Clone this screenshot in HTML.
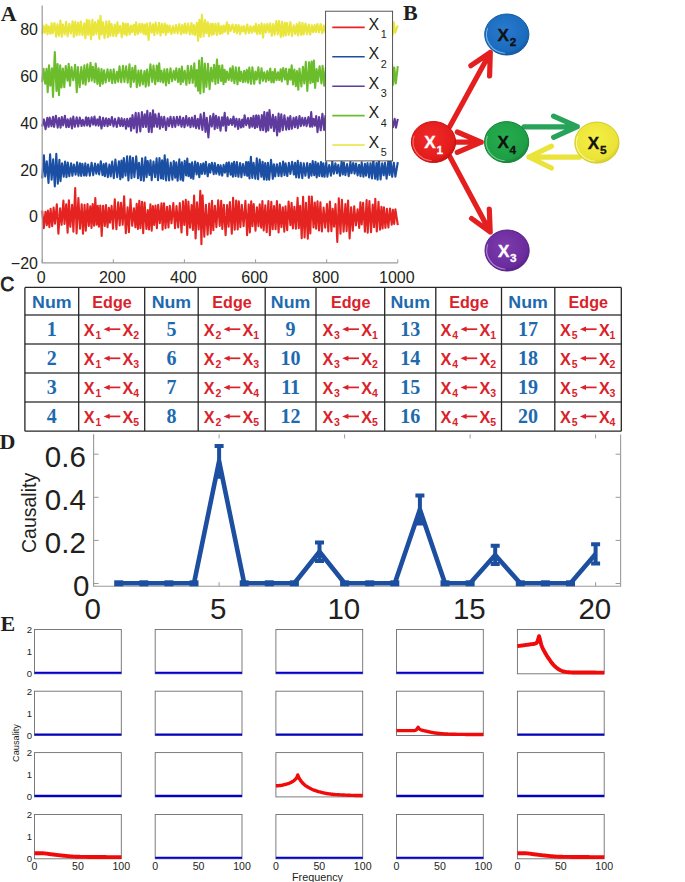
<!DOCTYPE html>
<html><head><meta charset="utf-8"><style>
html,body{margin:0;padding:0;background:#fff;}
svg{display:block;}
text{font-family:"Liberation Sans", sans-serif;}
</style></head><body>
<svg width="685" height="882" viewBox="0 0 685 882">
<rect width="685" height="882" fill="#fff"/>
<polyline fill="none" stroke="#e9e53a" stroke-width="2.1" stroke-linejoin="round" points="42.2,34.1 43.4,25.7 44.8,32.7 46.4,24.5 47.5,34.4 48.7,26.2 50.4,33.7 51.6,23.2 52.7,33.3 54.5,23.0 56.1,36.6 57.4,24.4 58.9,35.6 60.4,20.5 61.7,36.6 62.9,24.5 64.6,34.4 66.1,21.9 67.6,36.3 69.3,23.8 70.8,33.5 72.6,21.4 73.8,37.0 75.3,21.9 76.7,35.4 78.1,22.5 79.6,34.6 80.8,21.5 82.5,35.2 84.2,23.4 85.4,38.3 86.8,19.9 88.1,34.7 89.3,20.3 91.0,39.3 92.4,19.8 93.6,35.2 95.2,22.0 96.4,33.9 98.2,20.2 99.4,38.9 100.5,15.9 101.7,34.5 103.1,22.3 104.5,38.2 106.3,21.4 107.8,37.3 109.2,21.3 110.3,35.8 111.5,24.0 113.3,36.0 114.7,24.6 116.3,36.1 117.4,22.4 118.5,33.1 120.2,25.7 121.8,37.1 123.1,23.0 124.4,34.2 125.5,23.7 126.7,35.5 127.9,23.7 129.6,34.5 131.0,25.5 132.2,32.2 133.8,24.7 135.0,34.8 136.1,22.2 137.7,34.1 139.4,23.7 140.5,32.5 142.2,23.8 143.4,33.7 144.6,24.5 145.7,34.6 147.0,23.5 148.6,39.9 150.0,22.9 151.7,32.6 153.0,24.2 154.3,35.1 155.6,22.6 157.4,33.6 159.1,22.8 160.5,35.4 161.9,23.9 163.2,32.7 164.8,23.5 165.9,34.9 167.1,25.2 168.4,32.3 169.7,25.6 171.4,34.0 173.0,26.0 174.5,33.0 176.1,25.1 177.7,33.4 179.3,24.1 181.1,34.3 182.3,25.0 183.8,33.0 185.0,23.6 186.4,33.3 188.1,23.5 189.8,34.4 191.5,23.0 192.6,34.1 193.9,25.1 195.1,35.1 196.9,22.7 198.1,40.7 199.4,19.9 200.7,37.0 201.9,14.7 203.6,36.4 205.1,20.0 206.3,33.1 207.8,22.4 208.9,36.3 210.5,23.7 211.7,35.0 212.8,23.9 214.0,34.2 215.5,23.9 217.0,35.0 218.4,23.2 219.9,34.0 221.3,26.0 222.4,33.5 223.8,25.6 225.1,31.9 226.9,22.2 228.1,33.9 229.2,25.0 230.7,30.9 232.5,24.5 234.2,32.2 235.8,24.7 237.0,33.3 238.6,25.1 240.2,34.2 241.4,26.4 242.8,31.5 244.0,26.0 245.6,33.6 247.2,24.5 248.9,33.0 250.5,26.1 251.8,32.8 253.5,26.4 254.8,31.8 255.9,23.9 257.3,34.1 258.8,24.8 260.1,33.8 261.6,23.4 263.1,37.7 264.4,24.4 265.9,32.4 267.3,23.9 268.9,32.2 270.2,23.3 271.8,35.9 273.2,24.0 274.7,34.6 276.3,21.1 277.8,34.4 279.0,21.0 280.8,36.9 282.0,21.8 283.3,36.0 284.8,22.5 285.9,35.4 287.1,23.0 288.8,34.9 290.4,22.0 292.0,36.1 293.7,25.2 295.3,34.0 296.7,24.1 298.2,35.5 299.5,22.3 301.2,34.9 302.5,22.8 303.7,34.4 305.5,23.5 307.0,34.2 308.7,24.5 310.2,34.5 311.8,25.2 313.2,32.3 314.7,25.0 315.9,32.0 317.4,24.0 319.0,32.4 320.6,24.1 322.3,33.2 323.8,25.6 325.5,32.6 326.6,25.6 328.4,33.1 329.7,25.0 330.9,34.2 332.4,26.6 333.8,32.3 335.2,25.2 336.9,32.8 338.1,25.3 339.7,32.5 341.0,24.6 342.5,34.7 344.0,24.1 345.1,33.0 346.6,23.7 348.3,33.2 349.5,24.8 350.6,35.4 351.8,24.2 353.2,35.8 355.0,22.6 356.1,35.7 357.9,23.8 359.4,32.3 360.6,20.1 361.9,38.5 363.2,25.6 364.8,34.0 366.3,25.6 367.6,38.4 368.8,22.5 370.6,34.6 372.2,23.4 373.6,37.2 375.0,23.6 376.6,33.8 378.4,22.5 379.5,32.7 380.7,23.0 382.1,34.7 383.5,24.0 384.7,34.4 385.8,24.9 387.1,31.8 388.4,22.5 390.1,34.0 391.6,23.5 392.7,34.7 393.8,22.4 395.2,32.6 397.8,25.4"/>
<polyline fill="none" stroke="#6cbd2c" stroke-width="2.1" stroke-linejoin="round" points="42.2,82.0 43.5,68.9 45.2,83.7 46.5,68.8 47.7,92.3 49.0,65.2 50.3,85.6 51.9,68.3 53.0,96.9 54.8,52.1 56.5,91.0 57.6,64.0 59.0,95.3 60.2,65.2 61.5,87.4 62.9,68.6 64.3,87.2 65.7,66.0 67.5,80.7 68.7,63.9 70.0,85.8 71.5,67.1 73.3,80.3 75.1,64.9 76.8,92.1 77.9,67.1 79.7,87.1 81.3,67.0 83.0,83.6 84.4,65.4 85.6,84.6 87.3,64.4 88.8,81.4 90.5,62.8 91.7,80.6 92.9,66.8 94.6,82.1 95.7,63.5 97.4,83.9 98.6,68.4 100.1,85.9 101.5,69.0 102.8,83.7 104.1,70.3 105.7,82.4 107.5,69.4 109.1,81.2 110.6,69.7 112.2,83.2 113.7,69.4 115.2,82.9 116.9,71.9 118.2,81.6 119.5,66.2 121.2,82.3 123.0,65.9 124.4,82.0 126.1,66.4 127.7,82.6 129.5,64.2 130.7,87.0 132.4,67.7 133.8,81.9 135.3,65.8 136.8,87.1 138.4,70.6 139.8,85.7 141.1,70.3 142.8,84.3 144.5,71.0 145.7,86.6 147.1,69.5 148.7,85.6 150.4,64.4 152.2,81.8 153.5,65.5 155.2,84.1 156.8,65.5 157.9,81.3 159.2,63.2 160.4,81.7 161.5,70.8 163.1,82.5 164.4,69.4 166.0,85.3 167.2,69.1 168.9,83.1 170.5,68.3 172.1,81.3 173.7,70.9 175.1,79.8 176.3,68.4 178.1,82.0 179.3,68.8 180.7,84.1 181.9,66.5 183.1,81.8 184.7,70.7 186.4,84.8 187.8,65.8 189.5,83.2 191.2,66.1 192.7,82.8 194.3,63.3 195.6,86.4 196.8,70.0 198.1,90.6 199.1,60.5 200.3,93.5 201.9,57.7 203.7,92.2 204.8,63.5 206.4,87.0 208.0,63.9 209.6,89.1 211.1,67.7 212.5,81.5 214.1,64.9 215.4,84.0 217.0,59.6 218.2,82.9 219.3,65.7 221.1,81.0 222.3,65.2 223.5,84.2 224.6,69.7 225.7,81.9 226.9,71.5 228.7,80.0 230.2,68.4 231.6,80.9 232.7,66.4 234.4,83.1 235.8,67.3 237.5,84.3 239.0,67.6 240.1,81.0 241.3,71.7 242.9,82.2 244.2,70.9 245.4,81.7 246.8,69.8 248.1,82.6 249.3,67.5 251.0,83.8 252.4,67.3 254.2,83.8 255.4,71.5 256.7,79.5 258.4,67.4 259.8,83.4 261.5,68.3 262.9,80.9 264.3,72.2 266.0,81.6 267.3,71.0 268.8,80.4 270.3,68.5 271.4,82.3 272.6,72.1 273.8,82.4 274.9,69.1 276.5,80.2 278.0,72.3 279.3,80.0 280.7,69.2 281.8,81.5 283.2,68.0 284.9,79.5 286.0,68.7 287.6,84.1 289.2,69.2 290.4,79.6 291.7,65.2 293.0,84.5 294.4,69.5 295.8,86.1 297.0,71.0 298.3,89.7 299.5,68.5 301.4,86.5 302.9,66.7 304.3,83.5 305.8,61.9 307.3,91.0 309.1,62.2 310.4,83.1 311.6,61.5 312.8,82.2 313.9,60.6 315.1,88.0 316.6,69.0 317.9,81.3 319.6,66.2 321.4,83.5 322.6,65.9 324.2,85.6 325.8,67.7 327.6,84.8 328.8,63.3 330.5,82.6 331.8,65.1 333.0,85.7 334.3,62.9 336.1,87.6 337.5,69.8 338.9,93.0 340.6,68.9 342.3,87.7 344.1,63.9 345.2,84.0 347.0,62.6 348.6,88.2 350.3,67.4 352.0,86.0 353.7,66.7 355.5,82.8 357.0,65.0 358.2,86.9 359.8,65.8 360.9,87.2 362.2,65.8 363.5,88.4 364.8,64.1 366.5,88.7 368.2,60.4 370.0,85.7 371.5,65.9 373.1,86.2 374.3,54.6 375.7,84.9 377.3,61.1 378.7,91.5 380.2,53.7 381.8,89.8 383.1,63.9 384.8,88.4 386.4,59.9 387.6,87.4 389.0,64.0 390.7,86.6 392.0,63.5 393.1,84.8 394.3,67.6 395.8,83.4 397.8,66.1"/>
<polyline fill="none" stroke="#5f3b9e" stroke-width="2.1" stroke-linejoin="round" points="42.2,126.5 43.9,119.4 45.6,129.2 47.3,117.9 48.6,126.8 49.7,117.6 51.5,126.2 53.0,116.9 54.1,126.9 55.9,115.7 57.7,127.7 59.0,118.0 60.6,127.7 61.8,117.0 63.2,125.4 64.9,115.8 66.3,127.2 67.7,119.2 68.9,127.0 70.6,118.4 72.0,128.4 73.3,116.6 74.9,126.8 76.7,117.4 78.2,126.5 79.8,117.6 81.6,126.0 82.7,119.7 84.3,125.8 86.1,117.3 87.2,125.5 88.5,117.9 90.0,126.4 91.6,117.4 93.1,124.6 94.5,116.5 95.7,125.4 97.3,119.3 98.6,125.7 99.8,116.7 101.5,128.5 103.1,117.9 104.5,126.0 106.1,118.3 107.6,126.3 108.8,118.8 110.3,125.0 111.9,117.0 113.5,126.4 115.0,118.9 116.8,127.0 118.6,117.7 120.3,126.0 121.6,118.4 122.9,126.1 124.4,119.1 126.0,128.8 127.2,118.9 128.6,126.5 130.1,118.4 131.1,130.6 132.5,115.1 133.9,128.5 135.7,112.8 136.8,132.4 138.6,113.1 140.3,131.5 141.9,112.0 143.1,127.0 144.7,114.3 145.9,126.9 147.3,110.9 148.8,131.9 150.2,113.1 151.7,132.1 153.0,110.3 154.1,126.7 155.4,114.4 157.1,126.9 158.8,113.6 159.9,128.7 161.4,116.8 162.8,127.2 164.2,116.9 166.0,130.0 167.6,118.2 169.1,126.2 170.5,116.7 172.3,127.1 173.7,117.1 175.3,126.9 176.9,116.8 178.5,125.3 180.0,116.6 181.5,126.8 183.2,117.8 184.5,127.3 186.2,116.1 187.6,125.7 189.1,118.1 190.5,127.3 191.9,117.6 193.5,126.6 194.9,115.7 196.1,128.1 197.8,118.8 199.1,128.6 200.6,114.3 202.4,130.0 204.0,112.8 205.5,131.9 206.8,117.8 208.4,137.5 210.2,116.0 211.8,126.5 213.4,113.8 214.7,129.2 216.0,115.7 217.4,128.0 218.8,117.1 220.5,130.7 222.0,117.2 223.2,125.7 224.7,112.8 225.9,130.8 227.5,117.2 228.8,124.9 230.6,119.0 232.0,125.0 233.5,116.5 235.0,126.7 236.4,118.8 238.2,129.0 239.3,119.1 241.0,127.5 242.2,119.5 243.4,126.8 244.6,115.2 246.2,125.2 248.0,118.0 249.6,127.8 250.9,117.7 252.3,126.7 253.5,115.8 254.9,128.1 256.2,115.3 257.3,127.1 258.6,115.5 260.4,130.1 261.8,115.0 263.1,130.2 264.3,112.1 266.0,131.7 267.2,112.5 268.3,130.5 269.5,110.1 271.1,127.8 272.9,114.8 274.0,131.2 275.6,116.8 277.1,135.4 278.6,113.5 279.7,131.7 281.3,114.3 282.7,130.1 284.4,115.3 286.2,129.7 287.8,117.5 289.0,129.3 290.3,116.0 291.8,128.8 293.6,117.7 294.9,127.3 296.3,117.0 297.8,128.2 299.5,116.0 300.8,126.1 302.3,117.9 303.8,125.5 305.2,117.9 306.6,126.1 308.4,117.1 310.0,126.6 311.2,112.0 312.3,126.6 313.6,118.8 315.0,125.7 316.2,116.1 317.5,132.1 319.1,117.1 320.7,130.3 322.4,113.7 324.1,129.9 325.4,115.9 326.9,130.8 328.5,117.9 330.1,130.9 331.6,116.9 333.2,128.7 335.0,114.2 336.7,127.7 338.0,115.2 339.2,128.5 340.5,116.6 342.2,125.4 343.5,115.9 345.1,126.1 346.6,118.5 348.4,126.7 349.6,115.7 351.3,125.7 352.4,115.2 354.0,126.9 355.4,118.7 356.7,127.5 358.0,116.1 359.4,127.6 360.8,117.6 362.0,129.4 363.4,115.1 364.6,130.4 366.0,116.0 367.5,132.7 368.9,112.8 370.3,127.3 371.8,110.6 373.3,133.1 374.5,110.9 375.7,128.7 377.0,113.3 378.8,127.6 380.3,115.4 381.9,135.5 383.1,118.3 384.6,130.0 386.0,115.5 387.2,126.7 388.5,116.4 389.7,126.9 391.3,116.3 393.0,127.2 394.7,118.8 396.0,127.6 397.8,118.9"/>
<polyline fill="none" stroke="#1b4fa3" stroke-width="2.1" stroke-linejoin="round" points="42.2,178.3 43.9,155.3 45.2,176.4 46.8,161.3 48.5,183.0 50.1,154.3 51.6,179.6 53.2,159.4 54.8,186.5 56.3,153.9 57.8,183.6 59.4,159.8 60.5,181.1 62.1,163.2 63.7,176.7 65.1,161.6 66.5,177.2 67.8,162.6 69.3,176.1 71.1,163.4 72.4,175.8 73.9,164.6 75.6,174.7 77.1,162.4 78.5,175.6 80.0,163.2 81.2,175.9 82.4,163.9 84.1,175.5 85.3,163.4 86.4,175.6 88.1,164.5 89.8,175.6 91.6,162.7 93.2,175.2 95.0,163.6 96.3,173.7 97.9,164.4 99.2,174.4 100.8,161.2 102.5,175.1 103.7,164.0 104.9,176.1 106.1,163.3 107.8,177.2 109.4,164.6 110.7,176.5 112.2,161.5 113.8,178.1 115.4,159.6 117.2,177.1 118.9,161.4 120.3,179.2 121.4,160.6 122.7,177.4 123.8,158.1 125.5,175.7 127.1,156.2 128.4,180.5 130.1,156.3 131.5,178.3 132.9,157.8 134.4,177.2 136.2,156.4 138.0,178.3 139.1,162.9 140.9,180.2 142.1,158.4 143.8,180.8 145.4,157.4 146.6,177.1 147.7,161.0 149.4,174.9 150.5,160.2 151.7,180.1 153.5,161.5 155.1,177.1 156.6,158.4 158.0,180.3 159.5,158.1 161.0,178.4 162.1,160.4 163.3,178.9 164.7,155.4 166.1,180.4 167.5,159.3 169.1,180.5 170.8,162.5 172.4,179.6 173.8,161.0 175.2,177.7 176.3,162.2 177.6,180.6 179.3,159.4 180.6,179.8 181.9,162.3 183.1,180.7 184.7,160.8 186.1,175.5 187.3,158.6 188.5,176.2 189.7,163.7 190.9,178.0 192.1,162.3 193.3,178.8 195.1,161.6 196.6,174.5 197.8,162.9 199.3,177.1 200.7,164.1 201.9,173.9 203.3,163.2 204.8,173.9 205.9,161.9 207.7,176.3 209.2,164.0 210.3,172.6 211.9,162.7 213.7,174.2 214.8,163.1 216.3,173.8 218.0,164.7 219.4,174.8 220.6,165.3 222.2,175.7 223.6,164.9 224.9,172.7 226.5,162.8 227.6,176.3 228.9,162.3 230.6,174.7 231.8,163.3 232.9,176.6 234.1,161.8 235.6,176.2 236.9,162.1 238.4,176.8 240.1,163.0 241.4,177.2 243.0,164.0 244.6,175.1 246.1,162.1 247.2,175.8 248.3,162.0 249.5,178.4 250.9,156.9 252.3,178.0 253.6,162.9 255.3,178.7 256.8,158.2 258.1,179.3 259.7,159.6 261.4,176.8 262.6,161.7 264.0,179.5 265.2,163.0 266.7,179.8 267.9,162.9 269.2,179.6 271.0,159.9 272.8,178.8 273.9,164.2 275.2,176.4 276.9,164.2 278.6,176.0 279.9,163.0 281.5,176.3 283.1,161.6 284.5,175.2 285.6,163.4 287.3,176.0 288.9,162.8 290.4,173.9 292.1,161.8 293.9,174.5 295.1,162.7 296.2,177.3 297.8,160.9 299.0,177.7 300.7,162.7 302.3,178.2 303.8,163.3 305.4,175.8 307.2,163.0 308.8,177.8 310.1,163.8 311.5,175.7 312.7,161.0 314.2,175.2 315.5,161.9 316.7,177.4 318.0,163.3 319.3,176.0 321.0,162.0 322.1,176.4 323.3,163.3 324.5,176.8 326.2,162.4 327.4,176.6 329.2,165.1 330.9,175.6 332.3,161.7 333.8,173.8 335.4,163.4 337.0,173.3 338.3,164.9 340.0,175.8 341.6,161.7 342.8,174.5 343.9,162.5 345.4,175.1 347.1,164.1 348.7,176.2 350.4,162.1 351.5,173.3 353.2,163.0 354.6,173.7 356.0,163.5 357.6,175.4 359.1,164.9 360.5,176.1 361.7,162.4 363.4,176.6 364.9,163.9 366.0,175.6 367.5,163.1 369.1,177.4 370.5,163.2 372.0,178.4 373.3,159.8 375.1,178.6 376.5,163.1 377.6,179.7 378.9,160.2 380.6,179.4 382.2,163.4 383.7,175.3 385.0,162.9 386.6,178.7 388.3,161.1 389.5,174.9 390.6,160.5 392.2,176.8 393.8,162.7 395.4,176.7 397.8,162.1"/>
<polyline fill="none" stroke="#e52421" stroke-width="2.1" stroke-linejoin="round" points="42.2,210.6 43.8,228.2 45.5,211.9 46.8,225.2 47.9,210.6 49.4,227.1 50.6,208.7 52.2,226.2 53.6,207.6 55.0,223.7 56.8,204.4 58.4,233.6 60.1,208.3 61.6,224.8 63.4,200.5 64.5,223.9 66.2,204.2 67.6,232.7 68.9,200.3 70.3,226.8 72.1,204.8 73.4,231.7 75.2,188.0 76.6,233.5 78.4,198.1 80.0,228.8 81.7,204.2 83.0,233.6 84.6,204.9 85.8,230.7 87.5,204.1 88.8,226.0 90.3,206.2 91.5,227.9 92.7,204.1 94.1,225.7 95.3,198.1 96.6,224.6 97.8,205.8 98.9,226.8 100.3,205.6 101.7,235.9 103.1,205.7 104.8,226.0 106.0,205.0 107.5,227.3 108.9,207.9 110.0,222.7 111.6,205.8 113.0,228.6 114.8,199.3 116.4,229.1 118.2,202.4 119.7,225.4 121.0,202.7 122.7,224.8 124.1,196.3 125.8,233.1 127.6,207.4 128.9,232.3 130.5,199.4 132.2,225.8 134.0,208.4 135.4,227.3 136.7,203.9 137.9,229.0 139.3,200.9 140.4,228.3 142.0,201.8 143.2,233.3 144.6,202.6 146.4,229.0 147.8,210.1 149.0,229.4 150.4,204.4 151.7,230.7 152.9,206.0 154.2,225.0 155.5,205.5 156.9,228.2 158.2,204.8 159.8,223.2 161.5,203.2 162.6,229.8 164.0,203.2 165.5,228.1 167.0,206.8 168.5,227.5 169.8,205.8 171.5,223.3 173.3,203.0 175.0,228.1 176.5,206.1 178.2,227.4 179.8,203.0 181.5,232.5 183.0,201.2 184.3,225.0 185.8,199.9 187.2,234.9 188.4,201.6 190.0,227.7 191.6,205.1 192.9,229.9 194.1,195.6 195.6,238.5 197.0,202.4 198.7,229.4 200.3,190.9 201.4,244.3 202.6,195.3 204.3,236.7 205.9,204.7 207.6,234.7 209.2,203.6 210.7,233.6 212.0,200.7 213.3,230.1 214.9,205.7 216.4,227.2 218.2,200.2 219.7,225.9 221.2,200.8 222.3,229.0 223.9,204.9 225.6,235.2 227.1,205.1 228.6,226.6 229.9,202.0 231.8,233.6 233.1,197.7 234.7,229.6 236.2,200.6 237.7,229.4 238.8,201.4 240.4,227.1 241.8,204.8 243.6,226.2 245.4,200.9 247.1,235.1 248.7,204.5 249.9,232.4 251.2,201.2 252.5,226.3 253.7,204.0 255.5,230.6 256.9,207.2 258.5,226.2 259.7,204.2 261.2,227.8 262.4,201.0 263.7,230.4 265.3,205.4 266.7,232.1 268.4,201.0 269.9,235.3 271.3,201.9 272.7,229.1 274.1,206.1 275.6,229.1 276.9,201.0 278.6,232.5 279.8,204.5 281.4,227.1 282.8,207.2 284.3,231.7 285.5,206.3 287.2,230.1 288.6,201.6 290.4,225.2 291.6,202.7 292.9,228.5 294.4,206.8 295.9,228.6 297.6,197.8 298.8,228.1 300.2,205.9 301.7,238.1 303.1,196.8 304.6,237.5 306.0,202.9 307.8,238.6 309.0,196.6 310.3,233.5 311.8,196.5 313.5,227.4 314.8,202.6 316.1,228.8 317.5,201.4 319.0,230.4 320.4,202.2 321.9,231.4 323.6,207.5 325.2,227.6 327.0,204.1 328.3,231.5 329.9,201.5 331.4,231.2 332.7,208.8 334.1,226.6 335.5,204.0 337.3,241.9 338.8,198.4 340.5,233.8 341.9,199.7 343.6,231.7 345.4,204.0 346.6,231.2 348.1,200.5 349.6,238.4 351.1,207.2 352.8,230.6 354.2,206.2 355.9,225.4 357.6,209.3 359.2,228.0 360.4,202.2 361.7,224.5 363.1,202.7 364.9,231.6 366.6,200.0 367.7,232.7 369.4,201.1 371.0,232.1 372.7,204.6 374.1,227.1 375.3,198.8 376.8,231.5 378.5,201.9 380.0,229.7 381.4,206.8 382.6,228.5 383.9,207.2 385.4,227.8 386.9,208.9 388.4,227.5 390.0,208.5 391.7,224.6 392.9,209.9 394.2,224.0 395.4,209.3 397.8,225.2"/>
<path d="M42.2 5.5 V262.8 H397.8" fill="none" stroke="#9a9a9a" stroke-width="1.2"/>
<line x1="42.2" y1="262.8" x2="42.2" y2="259.3" stroke="#9a9a9a" stroke-width="1"/>
<text x="41.2" y="282.8" font-size="16" text-anchor="middle" fill="#231f20">0</text>
<line x1="113.3" y1="262.8" x2="113.3" y2="259.3" stroke="#9a9a9a" stroke-width="1"/>
<text x="112.3" y="282.8" font-size="16" text-anchor="middle" fill="#231f20">200</text>
<line x1="184.4" y1="262.8" x2="184.4" y2="259.3" stroke="#9a9a9a" stroke-width="1"/>
<text x="183.4" y="282.8" font-size="16" text-anchor="middle" fill="#231f20">400</text>
<line x1="255.6" y1="262.8" x2="255.6" y2="259.3" stroke="#9a9a9a" stroke-width="1"/>
<text x="254.6" y="282.8" font-size="16" text-anchor="middle" fill="#231f20">600</text>
<line x1="326.7" y1="262.8" x2="326.7" y2="259.3" stroke="#9a9a9a" stroke-width="1"/>
<text x="325.7" y="282.8" font-size="16" text-anchor="middle" fill="#231f20">800</text>
<line x1="397.8" y1="262.8" x2="397.8" y2="259.3" stroke="#9a9a9a" stroke-width="1"/>
<text x="396.8" y="282.8" font-size="16" text-anchor="middle" fill="#231f20">1000</text>
<text x="38.0" y="34.7" font-size="16" text-anchor="end" fill="#231f20">80</text>
<text x="38.0" y="81.6" font-size="16" text-anchor="end" fill="#231f20">60</text>
<text x="38.0" y="128.5" font-size="16" text-anchor="end" fill="#231f20">40</text>
<text x="38.0" y="175.5" font-size="16" text-anchor="end" fill="#231f20">20</text>
<text x="38.0" y="222.4" font-size="16" text-anchor="end" fill="#231f20">0</text>
<text x="38.0" y="269.3" font-size="16" text-anchor="end" fill="#231f20">−20</text>
<rect x="325.6" y="11.2" width="67" height="149.7" fill="#fff" stroke="#444" stroke-width="0.9"/>
<line x1="332.3" y1="27.4" x2="364.7" y2="27.4" stroke="#e52421" stroke-width="1.6"/>
<text x="368.6" y="29.9" font-size="16" fill="#231f20">X</text>
<text x="380.8" y="38.4" font-size="10.8" fill="#231f20">1</text>
<line x1="332.3" y1="56.8" x2="364.7" y2="56.8" stroke="#1b4fa3" stroke-width="1.6"/>
<text x="368.6" y="59.3" font-size="16" fill="#231f20">X</text>
<text x="380.8" y="67.8" font-size="10.8" fill="#231f20">2</text>
<line x1="332.3" y1="86.2" x2="364.7" y2="86.2" stroke="#5f3b9e" stroke-width="1.6"/>
<text x="368.6" y="88.7" font-size="16" fill="#231f20">X</text>
<text x="380.8" y="97.2" font-size="10.8" fill="#231f20">3</text>
<line x1="332.3" y1="115.6" x2="364.7" y2="115.6" stroke="#6cbd2c" stroke-width="1.6"/>
<text x="368.6" y="118.1" font-size="16" fill="#231f20">X</text>
<text x="380.8" y="126.6" font-size="10.8" fill="#231f20">4</text>
<line x1="332.3" y1="145.0" x2="364.7" y2="145.0" stroke="#e9e53a" stroke-width="1.6"/>
<text x="368.6" y="147.5" font-size="16" fill="#231f20">X</text>
<text x="380.8" y="156.0" font-size="10.8" fill="#231f20">5</text>
<text x="0.7" y="21.2" font-size="22" font-weight="bold" style='font-family:"Liberation Serif", serif' fill="#231f20">A</text>
<text x="403.1" y="20.1" font-size="22" font-weight="bold" style='font-family:"Liberation Serif", serif' fill="#231f20">B</text>
<text x="0.2" y="290.5" font-size="21" fill="#231f20" stroke="#231f20" stroke-width="0.8" textLength="14" lengthAdjust="spacingAndGlyphs">C</text>
<text x="-0.6" y="449.3" font-size="22" font-weight="bold" style='font-family:"Liberation Serif", serif' fill="#231f20">D</text>
<text x="0.4" y="631.3" font-size="22" font-weight="bold" style='font-family:"Liberation Serif", serif' fill="#231f20">E</text>
<defs>
<radialGradient id="gR" cx="45%" cy="40%" r="60%"><stop offset="0" stop-color="#f02a2a"/><stop offset="0.85" stop-color="#e31b1b"/><stop offset="1" stop-color="#c81414"/></radialGradient>
<radialGradient id="gB" cx="45%" cy="40%" r="60%"><stop offset="0" stop-color="#2a7bd0"/><stop offset="0.85" stop-color="#1a6bbd"/><stop offset="1" stop-color="#155aa3"/></radialGradient>
<radialGradient id="gP" cx="45%" cy="40%" r="60%"><stop offset="0" stop-color="#7d3cae"/><stop offset="0.85" stop-color="#6a2b9c"/><stop offset="1" stop-color="#58238a"/></radialGradient>
<radialGradient id="gG" cx="45%" cy="40%" r="60%"><stop offset="0" stop-color="#27ad4f"/><stop offset="0.85" stop-color="#1e9e45"/><stop offset="1" stop-color="#16863a"/></radialGradient>
<radialGradient id="gY" cx="45%" cy="40%" r="60%"><stop offset="0" stop-color="#f5ef45"/><stop offset="0.85" stop-color="#ebe337"/><stop offset="1" stop-color="#d6cf2c"/></radialGradient>
</defs>
<path d="M449.5 127.0 L490.3 52.5 M470.9 65.7 L490.3 52.5 L489.6 76.0" fill="none" stroke="#e41f1f" stroke-width="5.2" stroke-linecap="round" stroke-linejoin="round"/>
<path d="M449.5 156.0 L490.2 232.0 M489.3 209.0 L490.2 232.0 L471.6 218.5" fill="none" stroke="#e41f1f" stroke-width="5.2" stroke-linecap="round" stroke-linejoin="round"/>
<path d="M452.0 142.2 L481.2 142.2 M457.3 132.0 L481.2 142.2 L457.3 152.4" fill="none" stroke="#e41f1f" stroke-width="5.2" stroke-linecap="round" stroke-linejoin="round"/>
<path d="M524.0 126.8 L577.3 126.6 M553.5 116.1 L577.3 126.6 L553.6 137.3" fill="none" stroke="#27a35a" stroke-width="5.2" stroke-linecap="round" stroke-linejoin="round"/>
<path d="M579.5 157.1 L529.0 157.0 M551.4 168.0 L529.0 157.0 L551.5 146.1" fill="none" stroke="#eae33a" stroke-width="5.2" stroke-linecap="round" stroke-linejoin="round"/>
<ellipse cx="433.5" cy="142.0" rx="22.1" ry="20.5" fill="url(#gR)" stroke="#c41212" stroke-width="1.0"/>
<path d="M431.7 160.7 A20.4 18.8 0 0 1 414.3 135.6" fill="none" stroke="#ff8a8a" stroke-width="1.1" stroke-opacity="0.75"/>
<text x="424.3" y="148.3" font-size="17" font-weight="bold" fill="#ffffff" stroke="#ffffff" stroke-width="0.35" textLength="11.4" lengthAdjust="spacingAndGlyphs">X</text>
<text x="436.5" y="153.5" font-size="11.8" font-weight="bold" fill="#ffffff" stroke="#ffffff" stroke-width="0.3">1</text>
<ellipse cx="506.8" cy="34.5" rx="22.1" ry="20.5" fill="url(#gB)" stroke="#14579a" stroke-width="1.0"/>
<path d="M505.0 53.2 A20.4 18.8 0 0 1 487.6 28.1" fill="none" stroke="#8cc8ff" stroke-width="1.1" stroke-opacity="0.75"/>
<text x="497.6" y="40.8" font-size="17" font-weight="bold" fill="#111111" stroke="#111111" stroke-width="0.35" textLength="11.4" lengthAdjust="spacingAndGlyphs">X</text>
<text x="509.8" y="46.0" font-size="11.8" font-weight="bold" fill="#111111" stroke="#111111" stroke-width="0.3">2</text>
<ellipse cx="507.1" cy="250.5" rx="22.1" ry="20.5" fill="url(#gP)" stroke="#53207f" stroke-width="1.0"/>
<path d="M505.3 269.2 A20.4 18.8 0 0 1 487.9 244.1" fill="none" stroke="#c9a0ec" stroke-width="1.1" stroke-opacity="0.75"/>
<text x="497.9" y="256.8" font-size="17" font-weight="bold" fill="#ffffff" stroke="#ffffff" stroke-width="0.35" textLength="11.4" lengthAdjust="spacingAndGlyphs">X</text>
<text x="510.1" y="262.0" font-size="11.8" font-weight="bold" fill="#ffffff" stroke="#ffffff" stroke-width="0.3">3</text>
<ellipse cx="506.6" cy="142.1" rx="22.1" ry="20.5" fill="url(#gG)" stroke="#157f38" stroke-width="1.0"/>
<path d="M504.8 160.8 A20.4 18.8 0 0 1 487.4 135.7" fill="none" stroke="#8fe0a8" stroke-width="1.1" stroke-opacity="0.75"/>
<text x="497.4" y="148.4" font-size="17" font-weight="bold" fill="#111111" stroke="#111111" stroke-width="0.35" textLength="11.4" lengthAdjust="spacingAndGlyphs">X</text>
<text x="509.6" y="153.6" font-size="11.8" font-weight="bold" fill="#111111" stroke="#111111" stroke-width="0.3">4</text>
<ellipse cx="596.9" cy="142.6" rx="22.1" ry="20.5" fill="url(#gY)" stroke="#cfc928" stroke-width="1.0"/>
<path d="M595.1 161.3 A20.4 18.8 0 0 1 577.7 136.2" fill="none" stroke="#fffbb0" stroke-width="1.1" stroke-opacity="0.75"/>
<text x="587.7" y="148.9" font-size="17" font-weight="bold" fill="#111111" stroke="#111111" stroke-width="0.35" textLength="11.4" lengthAdjust="spacingAndGlyphs">X</text>
<text x="599.9" y="154.1" font-size="11.8" font-weight="bold" fill="#111111" stroke="#111111" stroke-width="0.3">5</text>
<path d="M24.9 314.9H621.3M24.9 343.9H621.3M24.9 373.1H621.3M24.9 402.0H621.3" stroke="#4a4a4a" stroke-width="1.5" fill="none"/>
<path d="M24.9 287.4V431.2M78.7 287.4V431.2M144.7 287.4V431.2M198.2 287.4V431.2M265.2 287.4V431.2M316.0 287.4V431.2M384.7 287.4V431.2M435.8 287.4V431.2M501.5 287.4V431.2M554.8 287.4V431.2M621.3 287.4V431.2M24.9 287.4H621.3M24.9 431.2H621.3" stroke="#262626" stroke-width="1.3" fill="none"/>
<text x="51.8" y="307.9" font-size="17.3" font-weight="bold" text-anchor="middle" fill="#1e6aae" textLength="39.5" lengthAdjust="spacingAndGlyphs">Num</text>
<text x="112.0" y="307.9" font-size="17.3" font-weight="bold" text-anchor="middle" fill="#d9222a" textLength="39.5" lengthAdjust="spacingAndGlyphs">Edge</text>
<text x="51.8" y="336.0" font-size="20" font-weight="bold" style='font-family:"Liberation Serif", serif' text-anchor="middle" fill="#1e6aae">1</text>
<g fill="#d9222a" font-weight="bold">
<text x="83.7" y="335.7" font-size="16.5" textLength="10.8" lengthAdjust="spacingAndGlyphs">X</text>
<text x="95.4" y="339.1" font-size="10.5">1</text>
<text x="122.6" y="335.7" font-size="16.5" textLength="10.8" lengthAdjust="spacingAndGlyphs">X</text>
<text x="133.3" y="339.1" font-size="10.5">2</text>
</g>
<path d="M108.7 329.2H120.3" stroke="#d9222a" stroke-width="1.7"/>
<path d="M103.6 329.2L109.7 326.6L109.7 331.8z" fill="#d9222a"/>
<text x="51.8" y="365.1" font-size="20" font-weight="bold" style='font-family:"Liberation Serif", serif' text-anchor="middle" fill="#1e6aae">2</text>
<g fill="#d9222a" font-weight="bold">
<text x="83.7" y="364.8" font-size="16.5" textLength="10.8" lengthAdjust="spacingAndGlyphs">X</text>
<text x="95.4" y="368.2" font-size="10.5">1</text>
<text x="122.6" y="364.8" font-size="16.5" textLength="10.8" lengthAdjust="spacingAndGlyphs">X</text>
<text x="133.3" y="368.2" font-size="10.5">3</text>
</g>
<path d="M108.7 358.3H120.3" stroke="#d9222a" stroke-width="1.7"/>
<path d="M103.6 358.3L109.7 355.7L109.7 360.9z" fill="#d9222a"/>
<text x="51.8" y="394.2" font-size="20" font-weight="bold" style='font-family:"Liberation Serif", serif' text-anchor="middle" fill="#1e6aae">3</text>
<g fill="#d9222a" font-weight="bold">
<text x="83.7" y="393.9" font-size="16.5" textLength="10.8" lengthAdjust="spacingAndGlyphs">X</text>
<text x="95.4" y="397.2" font-size="10.5">1</text>
<text x="122.6" y="393.9" font-size="16.5" textLength="10.8" lengthAdjust="spacingAndGlyphs">X</text>
<text x="133.3" y="397.2" font-size="10.5">4</text>
</g>
<path d="M108.7 387.4H120.3" stroke="#d9222a" stroke-width="1.7"/>
<path d="M103.6 387.4L109.7 384.8L109.7 390.0z" fill="#d9222a"/>
<text x="51.8" y="423.2" font-size="20" font-weight="bold" style='font-family:"Liberation Serif", serif' text-anchor="middle" fill="#1e6aae">4</text>
<g fill="#d9222a" font-weight="bold">
<text x="83.7" y="422.9" font-size="16.5" textLength="10.8" lengthAdjust="spacingAndGlyphs">X</text>
<text x="95.4" y="426.3" font-size="10.5">1</text>
<text x="122.6" y="422.9" font-size="16.5" textLength="10.8" lengthAdjust="spacingAndGlyphs">X</text>
<text x="133.3" y="426.3" font-size="10.5">5</text>
</g>
<path d="M108.7 416.4H120.3" stroke="#d9222a" stroke-width="1.7"/>
<path d="M103.6 416.4L109.7 413.8L109.7 419.0z" fill="#d9222a"/>
<text x="171.4" y="307.9" font-size="17.3" font-weight="bold" text-anchor="middle" fill="#1e6aae" textLength="39.5" lengthAdjust="spacingAndGlyphs">Num</text>
<text x="232.0" y="307.9" font-size="17.3" font-weight="bold" text-anchor="middle" fill="#d9222a" textLength="39.5" lengthAdjust="spacingAndGlyphs">Edge</text>
<text x="171.4" y="336.0" font-size="20" font-weight="bold" style='font-family:"Liberation Serif", serif' text-anchor="middle" fill="#1e6aae">5</text>
<g fill="#d9222a" font-weight="bold">
<text x="203.7" y="335.7" font-size="16.5" textLength="10.8" lengthAdjust="spacingAndGlyphs">X</text>
<text x="215.4" y="339.1" font-size="10.5">2</text>
<text x="242.6" y="335.7" font-size="16.5" textLength="10.8" lengthAdjust="spacingAndGlyphs">X</text>
<text x="253.3" y="339.1" font-size="10.5">1</text>
</g>
<path d="M228.7 329.2H240.3" stroke="#d9222a" stroke-width="1.7"/>
<path d="M223.6 329.2L229.7 326.6L229.7 331.8z" fill="#d9222a"/>
<text x="171.4" y="365.1" font-size="20" font-weight="bold" style='font-family:"Liberation Serif", serif' text-anchor="middle" fill="#1e6aae">6</text>
<g fill="#d9222a" font-weight="bold">
<text x="203.7" y="364.8" font-size="16.5" textLength="10.8" lengthAdjust="spacingAndGlyphs">X</text>
<text x="215.4" y="368.2" font-size="10.5">2</text>
<text x="242.6" y="364.8" font-size="16.5" textLength="10.8" lengthAdjust="spacingAndGlyphs">X</text>
<text x="253.3" y="368.2" font-size="10.5">3</text>
</g>
<path d="M228.7 358.3H240.3" stroke="#d9222a" stroke-width="1.7"/>
<path d="M223.6 358.3L229.7 355.7L229.7 360.9z" fill="#d9222a"/>
<text x="171.4" y="394.2" font-size="20" font-weight="bold" style='font-family:"Liberation Serif", serif' text-anchor="middle" fill="#1e6aae">7</text>
<g fill="#d9222a" font-weight="bold">
<text x="203.7" y="393.9" font-size="16.5" textLength="10.8" lengthAdjust="spacingAndGlyphs">X</text>
<text x="215.4" y="397.2" font-size="10.5">2</text>
<text x="242.6" y="393.9" font-size="16.5" textLength="10.8" lengthAdjust="spacingAndGlyphs">X</text>
<text x="253.3" y="397.2" font-size="10.5">4</text>
</g>
<path d="M228.7 387.4H240.3" stroke="#d9222a" stroke-width="1.7"/>
<path d="M223.6 387.4L229.7 384.8L229.7 390.0z" fill="#d9222a"/>
<text x="171.4" y="423.2" font-size="20" font-weight="bold" style='font-family:"Liberation Serif", serif' text-anchor="middle" fill="#1e6aae">8</text>
<g fill="#d9222a" font-weight="bold">
<text x="203.7" y="422.9" font-size="16.5" textLength="10.8" lengthAdjust="spacingAndGlyphs">X</text>
<text x="215.4" y="426.3" font-size="10.5">2</text>
<text x="242.6" y="422.9" font-size="16.5" textLength="10.8" lengthAdjust="spacingAndGlyphs">X</text>
<text x="253.3" y="426.3" font-size="10.5">5</text>
</g>
<path d="M228.7 416.4H240.3" stroke="#d9222a" stroke-width="1.7"/>
<path d="M223.6 416.4L229.7 413.8L229.7 419.0z" fill="#d9222a"/>
<text x="290.6" y="307.9" font-size="17.3" font-weight="bold" text-anchor="middle" fill="#1e6aae" textLength="39.5" lengthAdjust="spacingAndGlyphs">Num</text>
<text x="350.7" y="307.9" font-size="17.3" font-weight="bold" text-anchor="middle" fill="#d9222a" textLength="39.5" lengthAdjust="spacingAndGlyphs">Edge</text>
<text x="290.6" y="336.0" font-size="20" font-weight="bold" style='font-family:"Liberation Serif", serif' text-anchor="middle" fill="#1e6aae">9</text>
<g fill="#d9222a" font-weight="bold">
<text x="322.4" y="335.7" font-size="16.5" textLength="10.8" lengthAdjust="spacingAndGlyphs">X</text>
<text x="334.1" y="339.1" font-size="10.5">3</text>
<text x="361.2" y="335.7" font-size="16.5" textLength="10.8" lengthAdjust="spacingAndGlyphs">X</text>
<text x="372.0" y="339.1" font-size="10.5">1</text>
</g>
<path d="M347.4 329.2H359.0" stroke="#d9222a" stroke-width="1.7"/>
<path d="M342.2 329.2L348.4 326.6L348.4 331.8z" fill="#d9222a"/>
<text x="290.6" y="365.1" font-size="20" font-weight="bold" style='font-family:"Liberation Serif", serif' text-anchor="middle" fill="#1e6aae">10</text>
<g fill="#d9222a" font-weight="bold">
<text x="322.4" y="364.8" font-size="16.5" textLength="10.8" lengthAdjust="spacingAndGlyphs">X</text>
<text x="334.1" y="368.2" font-size="10.5">3</text>
<text x="361.2" y="364.8" font-size="16.5" textLength="10.8" lengthAdjust="spacingAndGlyphs">X</text>
<text x="372.0" y="368.2" font-size="10.5">2</text>
</g>
<path d="M347.4 358.3H359.0" stroke="#d9222a" stroke-width="1.7"/>
<path d="M342.2 358.3L348.4 355.7L348.4 360.9z" fill="#d9222a"/>
<text x="290.6" y="394.2" font-size="20" font-weight="bold" style='font-family:"Liberation Serif", serif' text-anchor="middle" fill="#1e6aae">11</text>
<g fill="#d9222a" font-weight="bold">
<text x="322.4" y="393.9" font-size="16.5" textLength="10.8" lengthAdjust="spacingAndGlyphs">X</text>
<text x="334.1" y="397.2" font-size="10.5">3</text>
<text x="361.2" y="393.9" font-size="16.5" textLength="10.8" lengthAdjust="spacingAndGlyphs">X</text>
<text x="372.0" y="397.2" font-size="10.5">4</text>
</g>
<path d="M347.4 387.4H359.0" stroke="#d9222a" stroke-width="1.7"/>
<path d="M342.2 387.4L348.4 384.8L348.4 390.0z" fill="#d9222a"/>
<text x="290.6" y="423.2" font-size="20" font-weight="bold" style='font-family:"Liberation Serif", serif' text-anchor="middle" fill="#1e6aae">12</text>
<g fill="#d9222a" font-weight="bold">
<text x="322.4" y="422.9" font-size="16.5" textLength="10.8" lengthAdjust="spacingAndGlyphs">X</text>
<text x="334.1" y="426.3" font-size="10.5">3</text>
<text x="361.2" y="422.9" font-size="16.5" textLength="10.8" lengthAdjust="spacingAndGlyphs">X</text>
<text x="372.0" y="426.3" font-size="10.5">5</text>
</g>
<path d="M347.4 416.4H359.0" stroke="#d9222a" stroke-width="1.7"/>
<path d="M342.2 416.4L348.4 413.8L348.4 419.0z" fill="#d9222a"/>
<text x="410.2" y="307.9" font-size="17.3" font-weight="bold" text-anchor="middle" fill="#1e6aae" textLength="39.5" lengthAdjust="spacingAndGlyphs">Num</text>
<text x="468.9" y="307.9" font-size="17.3" font-weight="bold" text-anchor="middle" fill="#d9222a" textLength="39.5" lengthAdjust="spacingAndGlyphs">Edge</text>
<text x="410.2" y="336.0" font-size="20" font-weight="bold" style='font-family:"Liberation Serif", serif' text-anchor="middle" fill="#1e6aae">13</text>
<g fill="#d9222a" font-weight="bold">
<text x="440.6" y="335.7" font-size="16.5" textLength="10.8" lengthAdjust="spacingAndGlyphs">X</text>
<text x="452.3" y="339.1" font-size="10.5">4</text>
<text x="479.5" y="335.7" font-size="16.5" textLength="10.8" lengthAdjust="spacingAndGlyphs">X</text>
<text x="490.2" y="339.1" font-size="10.5">1</text>
</g>
<path d="M465.6 329.2H477.2" stroke="#d9222a" stroke-width="1.7"/>
<path d="M460.5 329.2L466.6 326.6L466.6 331.8z" fill="#d9222a"/>
<text x="410.2" y="365.1" font-size="20" font-weight="bold" style='font-family:"Liberation Serif", serif' text-anchor="middle" fill="#1e6aae">14</text>
<g fill="#d9222a" font-weight="bold">
<text x="440.6" y="364.8" font-size="16.5" textLength="10.8" lengthAdjust="spacingAndGlyphs">X</text>
<text x="452.3" y="368.2" font-size="10.5">4</text>
<text x="479.5" y="364.8" font-size="16.5" textLength="10.8" lengthAdjust="spacingAndGlyphs">X</text>
<text x="490.2" y="368.2" font-size="10.5">2</text>
</g>
<path d="M465.6 358.3H477.2" stroke="#d9222a" stroke-width="1.7"/>
<path d="M460.5 358.3L466.6 355.7L466.6 360.9z" fill="#d9222a"/>
<text x="410.2" y="394.2" font-size="20" font-weight="bold" style='font-family:"Liberation Serif", serif' text-anchor="middle" fill="#1e6aae">15</text>
<g fill="#d9222a" font-weight="bold">
<text x="440.6" y="393.9" font-size="16.5" textLength="10.8" lengthAdjust="spacingAndGlyphs">X</text>
<text x="452.3" y="397.2" font-size="10.5">4</text>
<text x="479.5" y="393.9" font-size="16.5" textLength="10.8" lengthAdjust="spacingAndGlyphs">X</text>
<text x="490.2" y="397.2" font-size="10.5">3</text>
</g>
<path d="M465.6 387.4H477.2" stroke="#d9222a" stroke-width="1.7"/>
<path d="M460.5 387.4L466.6 384.8L466.6 390.0z" fill="#d9222a"/>
<text x="410.2" y="423.2" font-size="20" font-weight="bold" style='font-family:"Liberation Serif", serif' text-anchor="middle" fill="#1e6aae">16</text>
<g fill="#d9222a" font-weight="bold">
<text x="440.6" y="422.9" font-size="16.5" textLength="10.8" lengthAdjust="spacingAndGlyphs">X</text>
<text x="452.3" y="426.3" font-size="10.5">4</text>
<text x="479.5" y="422.9" font-size="16.5" textLength="10.8" lengthAdjust="spacingAndGlyphs">X</text>
<text x="490.2" y="426.3" font-size="10.5">5</text>
</g>
<path d="M465.6 416.4H477.2" stroke="#d9222a" stroke-width="1.7"/>
<path d="M460.5 416.4L466.6 413.8L466.6 419.0z" fill="#d9222a"/>
<text x="528.1" y="307.9" font-size="17.3" font-weight="bold" text-anchor="middle" fill="#1e6aae" textLength="39.5" lengthAdjust="spacingAndGlyphs">Num</text>
<text x="588.3" y="307.9" font-size="17.3" font-weight="bold" text-anchor="middle" fill="#d9222a" textLength="39.5" lengthAdjust="spacingAndGlyphs">Edge</text>
<text x="528.1" y="336.0" font-size="20" font-weight="bold" style='font-family:"Liberation Serif", serif' text-anchor="middle" fill="#1e6aae">17</text>
<g fill="#d9222a" font-weight="bold">
<text x="560.0" y="335.7" font-size="16.5" textLength="10.8" lengthAdjust="spacingAndGlyphs">X</text>
<text x="571.8" y="339.1" font-size="10.5">5</text>
<text x="598.9" y="335.7" font-size="16.5" textLength="10.8" lengthAdjust="spacingAndGlyphs">X</text>
<text x="609.6" y="339.1" font-size="10.5">1</text>
</g>
<path d="M585.0 329.2H596.6" stroke="#d9222a" stroke-width="1.7"/>
<path d="M579.9 329.2L586.0 326.6L586.0 331.8z" fill="#d9222a"/>
<text x="528.1" y="365.1" font-size="20" font-weight="bold" style='font-family:"Liberation Serif", serif' text-anchor="middle" fill="#1e6aae">18</text>
<g fill="#d9222a" font-weight="bold">
<text x="560.0" y="364.8" font-size="16.5" textLength="10.8" lengthAdjust="spacingAndGlyphs">X</text>
<text x="571.8" y="368.2" font-size="10.5">5</text>
<text x="598.9" y="364.8" font-size="16.5" textLength="10.8" lengthAdjust="spacingAndGlyphs">X</text>
<text x="609.6" y="368.2" font-size="10.5">2</text>
</g>
<path d="M585.0 358.3H596.6" stroke="#d9222a" stroke-width="1.7"/>
<path d="M579.9 358.3L586.0 355.7L586.0 360.9z" fill="#d9222a"/>
<text x="528.1" y="394.2" font-size="20" font-weight="bold" style='font-family:"Liberation Serif", serif' text-anchor="middle" fill="#1e6aae">19</text>
<g fill="#d9222a" font-weight="bold">
<text x="560.0" y="393.9" font-size="16.5" textLength="10.8" lengthAdjust="spacingAndGlyphs">X</text>
<text x="571.8" y="397.2" font-size="10.5">5</text>
<text x="598.9" y="393.9" font-size="16.5" textLength="10.8" lengthAdjust="spacingAndGlyphs">X</text>
<text x="609.6" y="397.2" font-size="10.5">3</text>
</g>
<path d="M585.0 387.4H596.6" stroke="#d9222a" stroke-width="1.7"/>
<path d="M579.9 387.4L586.0 384.8L586.0 390.0z" fill="#d9222a"/>
<text x="528.1" y="423.2" font-size="20" font-weight="bold" style='font-family:"Liberation Serif", serif' text-anchor="middle" fill="#1e6aae">20</text>
<g fill="#d9222a" font-weight="bold">
<text x="560.0" y="422.9" font-size="16.5" textLength="10.8" lengthAdjust="spacingAndGlyphs">X</text>
<text x="571.8" y="426.3" font-size="10.5">5</text>
<text x="598.9" y="422.9" font-size="16.5" textLength="10.8" lengthAdjust="spacingAndGlyphs">X</text>
<text x="609.6" y="426.3" font-size="10.5">4</text>
</g>
<path d="M585.0 416.4H596.6" stroke="#d9222a" stroke-width="1.7"/>
<path d="M579.9 416.4L586.0 413.8L586.0 419.0z" fill="#d9222a"/>
<path d="M93.6 434.4V586.2H620.6V434.4" fill="none" stroke="#9a9a9a" stroke-width="1.1"/>
<path d="M93.6 586.2v-4M93.6 434.4v4" stroke="#9a9a9a" stroke-width="1"/>
<text x="92.8" y="618.7" font-size="29.5" text-anchor="middle" fill="#231f20">0</text>
<path d="M219.1 586.2v-4M219.1 434.4v4" stroke="#9a9a9a" stroke-width="1"/>
<text x="218.3" y="618.7" font-size="29.5" text-anchor="middle" fill="#231f20">5</text>
<path d="M344.6 586.2v-4M344.6 434.4v4" stroke="#9a9a9a" stroke-width="1"/>
<text x="343.8" y="618.7" font-size="29.5" text-anchor="middle" fill="#231f20">10</text>
<path d="M470.1 586.2v-4M470.1 434.4v4" stroke="#9a9a9a" stroke-width="1"/>
<text x="469.3" y="618.7" font-size="29.5" text-anchor="middle" fill="#231f20">15</text>
<path d="M595.6 586.2v-4M595.6 434.4v4" stroke="#9a9a9a" stroke-width="1"/>
<text x="594.8" y="618.7" font-size="29.5" text-anchor="middle" fill="#231f20">20</text>
<path d="M93.6 583.5h5M620.6 583.5h-5" stroke="#9a9a9a" stroke-width="1"/>
<text x="89.3" y="596.0" font-size="29.5" text-anchor="end" fill="#231f20">0</text>
<path d="M93.6 540.4h5M620.6 540.4h-5" stroke="#9a9a9a" stroke-width="1"/>
<text x="85.8" y="553.4" font-size="29.5" text-anchor="end" fill="#231f20">0.2</text>
<path d="M93.6 497.3h5M620.6 497.3h-5" stroke="#9a9a9a" stroke-width="1"/>
<text x="85.8" y="510.3" font-size="29.5" text-anchor="end" fill="#231f20">0.4</text>
<path d="M93.6 454.2h5M620.6 454.2h-5" stroke="#9a9a9a" stroke-width="1"/>
<text x="85.8" y="467.2" font-size="29.5" text-anchor="end" fill="#231f20">0.6</text>
<text transform="translate(36.0,512.9) rotate(-90)" font-size="19.5" text-anchor="middle" fill="#231f20">Causality</text>
<polyline points="118.7,583.3 143.8,583.3 168.9,583.3 194.0,583.3 219.1,461.3 244.2,583.3 269.3,583.3 294.4,583.3 319.5,551.8 344.6,583.3 369.7,583.3 394.8,583.3 419.9,509.4 445.0,583.3 470.1,583.3 495.2,555.0 520.3,583.3 545.4,583.3 570.5,583.3 595.6,553.9" fill="none" stroke="#1c4fa0" stroke-width="4.6" stroke-linejoin="round"/>
<rect x="114.2" y="580.3" width="9" height="6" fill="#1c4fa0"/>
<rect x="139.3" y="580.3" width="9" height="6" fill="#1c4fa0"/>
<rect x="164.4" y="580.3" width="9" height="6" fill="#1c4fa0"/>
<rect x="189.5" y="580.3" width="9" height="6" fill="#1c4fa0"/>
<path d="M219.1 445.9V476.7M214.6 445.9h9M214.6 476.7h9" stroke="#1c4fa0" stroke-width="4" fill="none"/>
<rect x="239.7" y="580.3" width="9" height="6" fill="#1c4fa0"/>
<rect x="264.8" y="580.3" width="9" height="6" fill="#1c4fa0"/>
<rect x="289.9" y="580.3" width="9" height="6" fill="#1c4fa0"/>
<path d="M319.5 542.6V561.0M315.0 542.6h9M315.0 561.0h9" stroke="#1c4fa0" stroke-width="4" fill="none"/>
<rect x="340.1" y="580.3" width="9" height="6" fill="#1c4fa0"/>
<rect x="365.2" y="580.3" width="9" height="6" fill="#1c4fa0"/>
<rect x="390.3" y="580.3" width="9" height="6" fill="#1c4fa0"/>
<path d="M419.9 495.4V523.4M415.4 495.4h9M415.4 523.4h9" stroke="#1c4fa0" stroke-width="4" fill="none"/>
<rect x="440.5" y="580.3" width="9" height="6" fill="#1c4fa0"/>
<rect x="465.6" y="580.3" width="9" height="6" fill="#1c4fa0"/>
<path d="M495.2 545.8V564.1M490.7 545.8h9M490.7 564.1h9" stroke="#1c4fa0" stroke-width="4" fill="none"/>
<rect x="515.8" y="580.3" width="9" height="6" fill="#1c4fa0"/>
<rect x="540.9" y="580.3" width="9" height="6" fill="#1c4fa0"/>
<rect x="566.0" y="580.3" width="9" height="6" fill="#1c4fa0"/>
<path d="M595.6 544.2V563.5M591.1 544.2h9M591.1 563.5h9" stroke="#1c4fa0" stroke-width="4" fill="none"/>
<rect x="34.5" y="629.5" width="86.8" height="44.3" fill="#fff" stroke="#6e6e6e" stroke-width="0.9"/>
<line x1="34.5" y1="672.8" x2="121.3" y2="672.8" stroke="#0000d0" stroke-width="2.1"/>
<text x="32.2" y="677.2" font-size="9.6" text-anchor="end" fill="#231f20">0</text>
<text x="32.2" y="655.0" font-size="9.6" text-anchor="end" fill="#231f20">1</text>
<text x="32.2" y="632.9" font-size="9.6" text-anchor="end" fill="#231f20">2</text>
<rect x="155.2" y="629.5" width="86.8" height="44.3" fill="#fff" stroke="#6e6e6e" stroke-width="0.9"/>
<line x1="155.2" y1="672.8" x2="242.0" y2="672.8" stroke="#0000d0" stroke-width="2.1"/>
<rect x="275.9" y="629.5" width="86.8" height="44.3" fill="#fff" stroke="#6e6e6e" stroke-width="0.9"/>
<line x1="275.9" y1="672.8" x2="362.7" y2="672.8" stroke="#0000d0" stroke-width="2.1"/>
<rect x="396.5" y="629.5" width="86.8" height="44.3" fill="#fff" stroke="#6e6e6e" stroke-width="0.9"/>
<line x1="396.5" y1="672.8" x2="483.3" y2="672.8" stroke="#0000d0" stroke-width="2.1"/>
<rect x="517.4" y="629.5" width="86.8" height="44.3" fill="#fff" stroke="#6e6e6e" stroke-width="0.9"/>
<polyline points="517.40,646.11 518.15,646.02 518.90,645.93 519.64,645.84 520.39,645.75 521.14,645.65 521.89,645.55 522.64,645.46 523.39,645.36 524.13,645.26 524.88,645.15 525.63,645.05 526.38,644.94 527.13,644.84 527.88,644.73 528.62,644.62 529.37,644.50 530.12,644.39 530.87,644.27 531.62,644.18 532.37,644.09 533.11,643.99 533.86,643.88 534.61,643.73 535.36,643.54 536.11,643.23 536.86,642.57 537.60,641.36 538.35,638.54 539.10,636.14 539.10,636.14 539.83,638.95 540.56,642.11 541.29,644.85 542.03,646.77 542.76,648.36 543.49,649.79 544.22,651.22 544.95,652.58 545.68,653.87 546.41,655.09 547.15,656.24 547.88,657.33 548.61,658.38 549.34,659.43 550.07,660.49 550.80,661.54 551.53,662.53 552.27,663.45 553.00,664.34 553.73,665.16 554.46,665.91 555.19,666.58 555.92,667.20 556.66,667.77 557.39,668.30 558.12,668.81 558.85,669.30 559.58,669.76 560.31,670.16 561.04,670.51 561.78,670.81 562.51,671.08 563.24,671.31 563.97,671.51 564.70,671.68 565.43,671.83 566.16,671.96 566.90,672.07 567.63,672.14 568.36,672.20 569.09,672.26 569.82,672.31 570.55,672.36 571.28,672.40 572.02,672.43 572.75,672.45 573.48,672.47 574.21,672.47 574.94,672.48 575.67,672.49 576.40,672.49 577.14,672.50 577.87,672.50 578.60,672.51 579.33,672.51 580.06,672.52 580.79,672.52 581.52,672.52 582.26,672.53 582.99,672.53 583.72,672.54 584.45,672.54 585.18,672.54 585.91,672.55 586.64,672.55 587.38,672.55 588.11,672.56 588.84,672.56 589.57,672.56 590.30,672.56 591.03,672.56 591.77,672.57 592.50,672.57 593.23,672.57 593.96,672.57 594.69,672.57 595.42,672.57 596.15,672.58 596.89,672.58 597.62,672.58 598.35,672.58 599.08,672.58 599.81,672.58 600.54,672.58 601.27,672.58 602.01,672.58 602.74,672.58 603.47,672.58 604.20,672.58" fill="none" stroke="#f00a0a" stroke-width="3.9" stroke-linejoin="round" stroke-linecap="butt"/>
<rect x="34.5" y="691.2" width="86.8" height="44.3" fill="#fff" stroke="#6e6e6e" stroke-width="0.9"/>
<line x1="34.5" y1="734.5" x2="121.3" y2="734.5" stroke="#0000d0" stroke-width="2.1"/>
<text x="32.2" y="738.9" font-size="9.6" text-anchor="end" fill="#231f20">0</text>
<text x="32.2" y="716.8" font-size="9.6" text-anchor="end" fill="#231f20">1</text>
<text x="32.2" y="694.6" font-size="9.6" text-anchor="end" fill="#231f20">2</text>
<rect x="155.2" y="691.2" width="86.8" height="44.3" fill="#fff" stroke="#6e6e6e" stroke-width="0.9"/>
<line x1="155.2" y1="734.5" x2="242.0" y2="734.5" stroke="#0000d0" stroke-width="2.1"/>
<rect x="275.9" y="691.2" width="86.8" height="44.3" fill="#fff" stroke="#6e6e6e" stroke-width="0.9"/>
<line x1="275.9" y1="734.5" x2="362.7" y2="734.5" stroke="#0000d0" stroke-width="2.1"/>
<rect x="396.5" y="691.2" width="86.8" height="44.3" fill="#fff" stroke="#6e6e6e" stroke-width="0.9"/>
<polyline points="396.50,730.63 397.27,730.63 398.04,730.63 398.82,730.63 399.59,730.63 400.36,730.63 401.13,730.63 401.90,730.63 402.68,730.63 403.45,730.63 404.22,730.63 404.99,730.63 405.76,730.63 406.53,730.63 407.31,730.63 408.08,730.63 408.85,730.63 409.62,730.63 410.39,730.63 411.17,730.63 411.94,730.63 412.71,730.63 413.48,730.63 414.25,730.57 415.03,730.37 415.80,730.07 416.57,729.56 417.34,728.58 418.11,727.30 418.11,727.30 418.85,728.40 419.58,729.13 420.31,729.53 421.04,729.83 421.78,730.07 422.51,730.29 423.24,730.50 423.97,730.69 424.71,730.86 425.44,731.02 426.17,731.18 426.90,731.33 427.63,731.49 428.37,731.65 429.10,731.82 429.83,731.98 430.56,732.15 431.30,732.31 432.03,732.46 432.76,732.60 433.49,732.73 434.23,732.85 434.96,732.95 435.69,733.05 436.42,733.14 437.16,733.23 437.89,733.31 438.62,733.39 439.35,733.46 440.09,733.52 440.82,733.59 441.55,733.65 442.28,733.71 443.02,733.77 443.75,733.83 444.48,733.88 445.21,733.93 445.95,733.98 446.68,734.02 447.41,734.05 448.14,734.08 448.88,734.10 449.61,734.13 450.34,734.15 451.07,734.18 451.81,734.20 452.54,734.22 453.27,734.24 454.00,734.26 454.73,734.28 455.47,734.30 456.20,734.31 456.93,734.33 457.66,734.34 458.40,734.35 459.13,734.36 459.86,734.37 460.59,734.38 461.33,734.39 462.06,734.40 462.79,734.40 463.52,734.41 464.26,734.42 464.99,734.42 465.72,734.43 466.45,734.43 467.19,734.44 467.92,734.44 468.65,734.45 469.38,734.45 470.12,734.46 470.85,734.46 471.58,734.47 472.31,734.47 473.05,734.48 473.78,734.48 474.51,734.48 475.24,734.49 475.98,734.49 476.71,734.49 477.44,734.49 478.17,734.50 478.91,734.50 479.64,734.50 480.37,734.50 481.10,734.50 481.84,734.50 482.57,734.50 483.30,734.50" fill="none" stroke="#f00a0a" stroke-width="3.4" stroke-linejoin="round" stroke-linecap="butt"/>
<rect x="517.4" y="691.2" width="86.8" height="44.3" fill="#fff" stroke="#6e6e6e" stroke-width="0.9"/>
<line x1="517.4" y1="734.5" x2="604.2" y2="734.5" stroke="#0000d0" stroke-width="2.1"/>
<rect x="34.5" y="752.6" width="86.8" height="44.3" fill="#fff" stroke="#6e6e6e" stroke-width="0.9"/>
<line x1="34.5" y1="795.9" x2="121.3" y2="795.9" stroke="#0000d0" stroke-width="2.1"/>
<text x="32.2" y="800.3" font-size="9.6" text-anchor="end" fill="#231f20">0</text>
<text x="32.2" y="778.1" font-size="9.6" text-anchor="end" fill="#231f20">1</text>
<text x="32.2" y="756.0" font-size="9.6" text-anchor="end" fill="#231f20">2</text>
<rect x="155.2" y="752.6" width="86.8" height="44.3" fill="#fff" stroke="#6e6e6e" stroke-width="0.9"/>
<line x1="155.2" y1="795.9" x2="242.0" y2="795.9" stroke="#0000d0" stroke-width="2.1"/>
<rect x="275.9" y="752.6" width="86.8" height="44.3" fill="#fff" stroke="#6e6e6e" stroke-width="0.9"/>
<polyline points="275.90,785.82 276.65,785.81 277.41,785.77 278.16,785.71 278.92,785.64 279.67,785.56 280.43,785.47 281.18,785.37 281.93,785.25 282.69,785.10 283.44,784.92 284.20,784.72 284.95,784.51 285.71,784.30 286.46,784.09 287.21,783.86 287.97,783.62 288.72,783.36 289.48,783.07 290.23,782.76 290.99,782.40 291.74,781.99 292.49,781.55 293.25,781.05 294.00,780.48 294.76,779.84 295.51,779.16 296.27,778.36 297.02,777.02 297.77,774.97 297.77,774.97 298.51,776.99 299.25,778.49 299.99,779.62 300.72,780.63 301.46,781.59 302.20,782.50 302.94,783.33 303.68,784.05 304.41,784.69 305.15,785.26 305.89,785.80 306.63,786.29 307.36,786.76 308.10,787.21 308.84,787.64 309.58,788.05 310.32,788.45 311.05,788.83 311.79,789.19 312.53,789.52 313.27,789.83 314.01,790.12 314.74,790.39 315.48,790.65 316.22,790.89 316.96,791.13 317.69,791.35 318.43,791.57 319.17,791.77 319.91,791.97 320.65,792.16 321.38,792.35 322.12,792.54 322.86,792.72 323.60,792.89 324.33,793.05 325.07,793.20 325.81,793.35 326.55,793.48 327.29,793.61 328.02,793.72 328.76,793.83 329.50,793.94 330.24,794.04 330.97,794.14 331.71,794.23 332.45,794.31 333.19,794.38 333.93,794.45 334.66,794.51 335.40,794.57 336.14,794.62 336.88,794.67 337.61,794.72 338.35,794.76 339.09,794.80 339.83,794.85 340.57,794.88 341.30,794.92 342.04,794.96 342.78,795.00 343.52,795.03 344.25,795.07 344.99,795.10 345.73,795.14 346.47,795.17 347.21,795.20 347.94,795.23 348.68,795.26 349.42,795.29 350.16,795.31 350.90,795.33 351.63,795.36 352.37,795.38 353.11,795.39 353.85,795.41 354.58,795.43 355.32,795.45 356.06,795.47 356.80,795.48 357.54,795.50 358.27,795.51 359.01,795.52 359.75,795.54 360.49,795.55 361.22,795.56 361.96,795.56 362.70,795.57" fill="none" stroke="#f00a0a" stroke-width="3.4" stroke-linejoin="round" stroke-linecap="butt"/>
<rect x="396.5" y="752.6" width="86.8" height="44.3" fill="#fff" stroke="#6e6e6e" stroke-width="0.9"/>
<line x1="396.5" y1="795.9" x2="483.3" y2="795.9" stroke="#0000d0" stroke-width="2.1"/>
<rect x="517.4" y="752.6" width="86.8" height="44.3" fill="#fff" stroke="#6e6e6e" stroke-width="0.9"/>
<line x1="517.4" y1="795.9" x2="604.2" y2="795.9" stroke="#0000d0" stroke-width="2.1"/>
<rect x="34.5" y="814.5" width="86.8" height="44.3" fill="#fff" stroke="#6e6e6e" stroke-width="0.9"/>
<polyline points="34.50,853.26 35.23,853.26 35.96,853.26 36.69,853.26 37.42,853.26 38.15,853.26 38.88,853.26 39.61,853.26 40.34,853.26 41.06,853.26 41.79,853.26 42.52,853.26 43.25,853.29 43.98,853.33 44.71,853.40 45.44,853.49 46.17,853.58 46.90,853.69 47.63,853.80 48.36,853.91 49.09,854.01 49.82,854.11 50.55,854.20 51.28,854.29 52.01,854.37 52.74,854.46 53.46,854.55 54.19,854.64 54.92,854.73 55.65,854.82 56.38,854.90 57.11,854.99 57.84,855.07 58.57,855.16 59.30,855.24 60.03,855.32 60.76,855.40 61.49,855.48 62.22,855.56 62.95,855.64 63.68,855.72 64.41,855.79 65.14,855.86 65.86,855.93 66.59,856.00 67.32,856.07 68.05,856.14 68.78,856.22 69.51,856.29 70.24,856.35 70.97,856.42 71.70,856.48 72.43,856.54 73.16,856.59 73.89,856.63 74.62,856.67 75.35,856.70 76.08,856.72 76.81,856.74 77.54,856.76 78.26,856.78 78.99,856.80 79.72,856.81 80.45,856.83 81.18,856.84 81.91,856.85 82.64,856.86 83.37,856.87 84.10,856.88 84.83,856.89 85.56,856.90 86.29,856.91 87.02,856.92 87.75,856.93 88.48,856.94 89.21,856.95 89.94,856.96 90.66,856.96 91.39,856.97 92.12,856.98 92.85,856.98 93.58,856.99 94.31,857.00 95.04,857.00 95.77,857.01 96.50,857.01 97.23,857.02 97.96,857.02 98.69,857.03 99.42,857.03 100.15,857.04 100.88,857.04 101.61,857.05 102.34,857.05 103.06,857.06 103.79,857.06 104.52,857.06 105.25,857.07 105.98,857.07 106.71,857.08 107.44,857.08 108.17,857.09 108.90,857.09 109.63,857.09 110.36,857.10 111.09,857.10 111.82,857.10 112.55,857.11 113.28,857.11 114.01,857.11 114.74,857.12 115.46,857.12 116.19,857.12 116.92,857.13 117.65,857.13 118.38,857.13 119.11,857.13 119.84,857.14 120.57,857.14 121.30,857.14" fill="none" stroke="#f00a0a" stroke-width="3.9" stroke-linejoin="round" stroke-linecap="butt"/>
<text x="32.2" y="862.2" font-size="9.6" text-anchor="end" fill="#231f20">0</text>
<text x="32.2" y="840.0" font-size="9.6" text-anchor="end" fill="#231f20">1</text>
<text x="32.2" y="817.9" font-size="9.6" text-anchor="end" fill="#231f20">2</text>
<text x="34.5" y="870.1" font-size="10.6" text-anchor="middle" fill="#231f20">0</text>
<text x="77.9" y="870.1" font-size="10.6" text-anchor="middle" fill="#231f20">50</text>
<text x="121.3" y="870.1" font-size="10.6" text-anchor="middle" fill="#231f20">100</text>
<rect x="155.2" y="814.5" width="86.8" height="44.3" fill="#fff" stroke="#6e6e6e" stroke-width="0.9"/>
<line x1="155.2" y1="857.8" x2="242.0" y2="857.8" stroke="#0000d0" stroke-width="2.1"/>
<text x="155.2" y="870.1" font-size="10.6" text-anchor="middle" fill="#231f20">0</text>
<text x="198.6" y="870.1" font-size="10.6" text-anchor="middle" fill="#231f20">50</text>
<text x="242.0" y="870.1" font-size="10.6" text-anchor="middle" fill="#231f20">100</text>
<rect x="275.9" y="814.5" width="86.8" height="44.3" fill="#fff" stroke="#6e6e6e" stroke-width="0.9"/>
<line x1="275.9" y1="857.8" x2="362.7" y2="857.8" stroke="#0000d0" stroke-width="2.1"/>
<text x="275.9" y="870.1" font-size="10.6" text-anchor="middle" fill="#231f20">0</text>
<text x="319.3" y="870.1" font-size="10.6" text-anchor="middle" fill="#231f20">50</text>
<text x="362.7" y="870.1" font-size="10.6" text-anchor="middle" fill="#231f20">100</text>
<rect x="396.5" y="814.5" width="86.8" height="44.3" fill="#fff" stroke="#6e6e6e" stroke-width="0.9"/>
<line x1="396.5" y1="857.8" x2="483.3" y2="857.8" stroke="#0000d0" stroke-width="2.1"/>
<text x="396.5" y="870.1" font-size="10.6" text-anchor="middle" fill="#231f20">0</text>
<text x="439.9" y="870.1" font-size="10.6" text-anchor="middle" fill="#231f20">50</text>
<text x="483.3" y="870.1" font-size="10.6" text-anchor="middle" fill="#231f20">100</text>
<rect x="517.4" y="814.5" width="86.8" height="44.3" fill="#fff" stroke="#6e6e6e" stroke-width="0.9"/>
<polyline points="517.40,853.26 518.13,853.26 518.86,853.26 519.59,853.26 520.32,853.26 521.05,853.26 521.78,853.26 522.51,853.26 523.24,853.26 523.96,853.26 524.69,853.26 525.42,853.26 526.15,853.29 526.88,853.33 527.61,853.40 528.34,853.49 529.07,853.58 529.80,853.69 530.53,853.80 531.26,853.91 531.99,854.01 532.72,854.11 533.45,854.20 534.18,854.29 534.91,854.37 535.64,854.46 536.36,854.55 537.09,854.64 537.82,854.73 538.55,854.82 539.28,854.90 540.01,854.99 540.74,855.07 541.47,855.16 542.20,855.24 542.93,855.32 543.66,855.40 544.39,855.48 545.12,855.56 545.85,855.64 546.58,855.72 547.31,855.79 548.04,855.86 548.76,855.93 549.49,856.00 550.22,856.07 550.95,856.14 551.68,856.22 552.41,856.29 553.14,856.35 553.87,856.42 554.60,856.48 555.33,856.54 556.06,856.59 556.79,856.63 557.52,856.67 558.25,856.70 558.98,856.72 559.71,856.74 560.44,856.76 561.16,856.78 561.89,856.80 562.62,856.81 563.35,856.83 564.08,856.84 564.81,856.85 565.54,856.86 566.27,856.87 567.00,856.88 567.73,856.89 568.46,856.90 569.19,856.91 569.92,856.92 570.65,856.93 571.38,856.94 572.11,856.95 572.84,856.96 573.56,856.96 574.29,856.97 575.02,856.98 575.75,856.98 576.48,856.99 577.21,857.00 577.94,857.00 578.67,857.01 579.40,857.01 580.13,857.02 580.86,857.02 581.59,857.03 582.32,857.03 583.05,857.04 583.78,857.04 584.51,857.05 585.24,857.05 585.96,857.06 586.69,857.06 587.42,857.06 588.15,857.07 588.88,857.07 589.61,857.08 590.34,857.08 591.07,857.09 591.80,857.09 592.53,857.09 593.26,857.10 593.99,857.10 594.72,857.10 595.45,857.11 596.18,857.11 596.91,857.11 597.64,857.12 598.36,857.12 599.09,857.12 599.82,857.13 600.55,857.13 601.28,857.13 602.01,857.13 602.74,857.14 603.47,857.14 604.20,857.14" fill="none" stroke="#f00a0a" stroke-width="3.9" stroke-linejoin="round" stroke-linecap="butt"/>
<text x="517.4" y="870.1" font-size="10.6" text-anchor="middle" fill="#231f20">0</text>
<text x="560.8" y="870.1" font-size="10.6" text-anchor="middle" fill="#231f20">50</text>
<text x="604.2" y="870.1" font-size="10.6" text-anchor="middle" fill="#231f20">100</text>
<text transform="translate(19.4,743) rotate(-90)" font-size="9.2" text-anchor="middle" fill="#231f20">Causality</text>
<text x="317.5" y="880.6" font-size="10.8" text-anchor="middle" fill="#231f20">Frequency</text>
</svg>
</body></html>
